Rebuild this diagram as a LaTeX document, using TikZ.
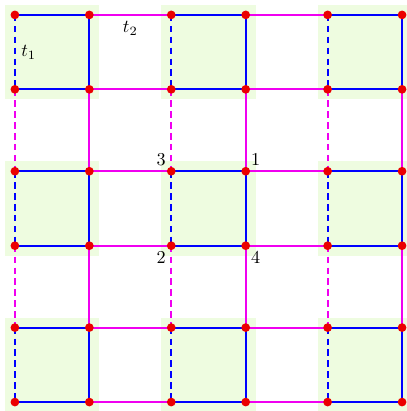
\documentclass[tikz,border=0pt]{standalone}
\usepackage{tikz}
\usetikzlibrary{positioning}
\definecolor{cellgreen}{RGB}{238,252,224}
\definecolor{edgeblue}{RGB}{0,0,255}
\definecolor{edgemagenta}{RGB}{240,0,240}
\definecolor{dotred}{RGB}{235,0,0}

\begin{document}
\begin{tikzpicture}[x=1.44cm,y=1.44cm,
  vtx/.style={circle,fill=dotred,inner sep=0pt,minimum size=4.8pt},
  sqedge/.style={draw=edgeblue,line width=1.2pt},
  gapedge/.style={draw=edgemagenta,line width=1.2pt},
  brokenedge/.style={dash pattern=on 3.6pt off 2.4pt},
  cornerlbl/.style={inner sep=1pt},
]
\useasboundingbox (-0.2,-0.12) rectangle (5.26,5.4);
% green cells
\foreach \a in {0,2.1,4.2}
  \foreach \b in {0,2.1,4.2}
    \fill[cellgreen] (\a-0.134,\b-0.134) rectangle (\a+1.134,\b+1.134);
% grid points
\foreach \p [count=\i from 0] in {0,1,2.1,3.1,4.2,5.2}
  \foreach \q [count=\j from 0] in {0,1,2.1,3.1,4.2,5.2}
    \coordinate (g-\i-\j) at (\p,5.2-\q);
% horizontal edges
\foreach \ca/\cb in {0/1,2/3,4/5}
  \foreach \ra in {0,...,5}
    \draw[sqedge] (g-\ca-\ra) -- (g-\cb-\ra);
\foreach \ca/\cb in {1/2,3/4}
  \foreach \ra in {0,...,5}
    \draw[gapedge] (g-\ca-\ra) -- (g-\cb-\ra);
% vertical edges
\foreach \ra/\rb in {0/1,2/3,4/5} {
  \foreach \ca in {0,2,4}
    \draw[sqedge,brokenedge] (g-\ca-\ra) -- (g-\ca-\rb);
  \foreach \ca in {1,3,5}
    \draw[sqedge] (g-\ca-\ra) -- (g-\ca-\rb);
}
\foreach \ra/\rb in {1/2,3/4} {
  \foreach \ca in {0,2,4}
    \draw[gapedge,brokenedge] (g-\ca-\ra) -- (g-\ca-\rb);
  \foreach \ca in {1,3,5}
    \draw[gapedge] (g-\ca-\ra) -- (g-\ca-\rb);
}
% vertices
\foreach \i in {0,...,5}
  \foreach \j in {0,...,5}
    \node[vtx] (v-\i-\j) at (g-\i-\j) {};

% labels
\path (v-0-0) -- node[right] (t1) {$t_1$} (v-0-1);
\path (v-1-0) -- node[below] (t2) {$t_2$} (v-2-0);
\node[cornerlbl, above left=0pt of v-2-2] (c3) {3};
\node[cornerlbl, above right=0pt of v-3-2] (c1) {1};
\node[cornerlbl, below left=0pt of v-2-3] (c2) {2};
\node[cornerlbl, below right=0pt of v-3-3] (c4) {4};
\end{tikzpicture}
\end{document}
